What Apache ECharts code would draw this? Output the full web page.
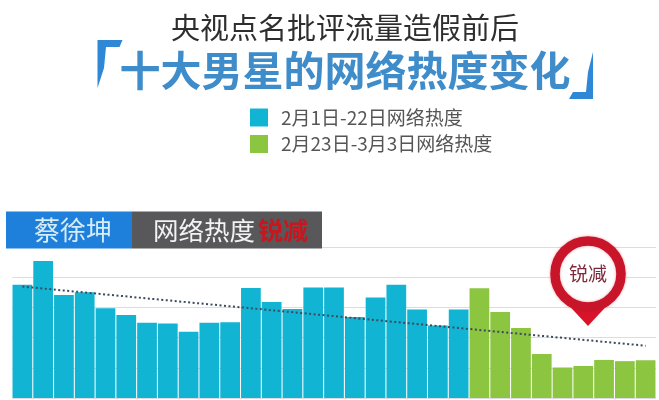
<!DOCTYPE html>
<html><head><meta charset="utf-8">
<style>html,body{margin:0;padding:0;background:#fff}#c{width:659px;height:400px}</style>
<script src="https://cdn.jsdelivr.net/npm/echarts@6/dist/echarts.min.js"></script>
</head><body><div id="c"></div>
<script>
const categories = ['2月1日','2月2日','2月3日','2月4日','2月5日','2月6日','2月7日','2月8日','2月9日','2月10日','2月11日','2月12日','2月13日','2月14日','2月15日','2月16日','2月17日','2月18日','2月19日','2月20日','2月21日','2月22日','2月23日','2月24日','2月25日','2月26日','2月27日','2月28日','3月1日','3月2日','3月3日'];
const beforeValues = [375,454,341,350,297,275,249,247,219,249,251,364,318,295,366,366,268,333,375,293,240,293,null,null,null,null,null,null,null,null,null];
const afterValues = [null,null,null,null,null,null,null,null,null,null,null,null,null,null,null,null,null,null,null,null,null,null,363,285,232,146,101,106,126,122,125];
const trendValues = [369,null,null,null,null,null,null,null,null,null,null,null,null,null,null,null,null,null,null,null,null,null,null,null,null,null,null,null,null,null,173];
const axisTicks = [0,100,200,300,400,500];
const FONT = '"Noto Sans CJK SC","Noto Sans",sans-serif';
const chart = echarts.init(document.getElementById('c'), null, {renderer:'canvas'});
chart.setOption({
  animation:false,
  backgroundColor:'#fff',
  textStyle:{fontFamily:FONT},
  title:[
    {text:'央视点名批评流量造假前后',left:340,top:23,textAlign:'center',textVerticalAlign:'middle',
     textStyle:{fontSize:29,fontWeight:400,color:'#2e2e2e',fontFamily:FONT}},
    {text:'十大男星的网络热度变化',left:340,top:65,textAlign:'center',textVerticalAlign:'middle',
     textStyle:{fontSize:41,fontWeight:700,color:'#3f8ccb',fontFamily:FONT}}
  ],
  legend:{
    data:['2月1日-22日网络热度','2月23日-3月3日网络热度'],
    orient:'vertical',left:245,top:103,itemWidth:18,itemHeight:18,itemGap:7.5,icon:'rect',
    selectedMode:false,
    textStyle:{fontSize:19,color:'#555',padding:[0,0,0,8],fontFamily:FONT}
  },
  grid:{left:12,right:3,top:247,bottom:2},
  xAxis:{type:'category',data:categories,axisLine:{show:false},axisTick:{show:false},axisLabel:{show:false}},
  yAxis:{type:'value',min:axisTicks[0],max:axisTicks[axisTicks.length-1],interval:100,
    axisLine:{show:false},axisTick:{show:false},axisLabel:{show:false},
    splitLine:{lineStyle:{color:'#dcdce2',width:1}}},
  series:[
    {name:'2月1日-22日网络热度',type:'bar',data:beforeValues,barGap:'-100%',barCategoryGap:'5%',itemStyle:{color:'#12b4d4'}},
    {name:'2月23日-3月3日网络热度',type:'bar',data:afterValues,barCategoryGap:'5%',itemStyle:{color:'#8cc540'}},
    {name:'趋势',type:'line',data:trendValues,connectNulls:true,symbol:'none',z:5,
     lineStyle:{color:'#3d4a5c',width:2,type:[2,2.5]}}
  ],
  graphic:[
    {type:'polygon',shape:{points:[[97.5,88],[97.5,40],[122.5,40],[119.5,47],[106,47],[104,68]]},style:{fill:'#2f88d6'}},
    {type:'polygon',shape:{points:[[593,52],[593,99],[569,99],[573,92],[586,92],[588,72]]},style:{fill:'#2f88d6'}},
    {type:'rect',shape:{x:6,y:211.5,width:126,height:37},style:{fill:'#1f80dc'},z:10},
    {type:'rect',shape:{x:132,y:211.5,width:190,height:37},style:{fill:'#58585a'},z:10},
    {type:'text',x:73,y:230,z:11,style:{text:'蔡徐坤',fill:'#d6ecf8',font:'400 26px '+FONT,textAlign:'center',textVerticalAlign:'middle'}},
    {type:'text',x:153,y:230,z:11,style:{text:'网络热度',fill:'#f2f2f2',font:'400 25.5px '+FONT,textAlign:'left',textVerticalAlign:'middle'}},
    {type:'text',x:258,y:230,z:11,style:{text:'锐减',fill:'#c8161e',font:'700 25px '+FONT,textAlign:'left',textVerticalAlign:'middle'}},
    {type:'polygon',z:20,shape:{points:[[562,298],[614,298],[588,326]]},style:{fill:'#d9142a'}},
    {type:'circle',z:21,shape:{cx:588,cy:274,r:33},style:{fill:'#fff',stroke:'#c9152a',lineWidth:9.5,shadowBlur:3,shadowColor:'rgba(200,20,40,.4)'}},
    {type:'text',x:588,y:274,z:22,style:{text:'锐减',fill:'#7e2a3c',font:'400 19px '+FONT,textAlign:'center',textVerticalAlign:'middle'}}
  ]
});
</script></body></html>
